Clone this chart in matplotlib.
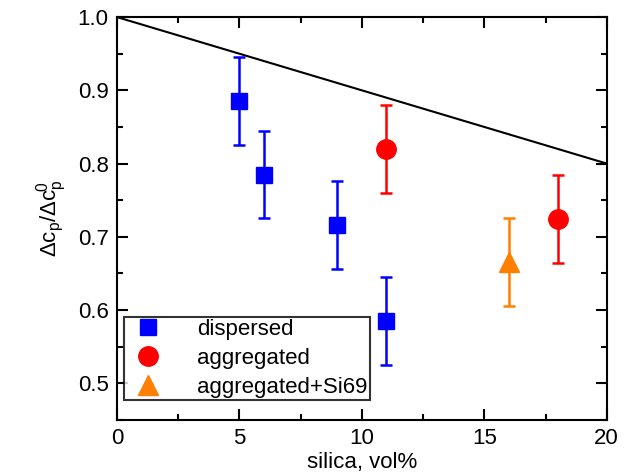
import numpy as np
import matplotlib.pyplot as plt
from matplotlib.ticker import MultipleLocator
from matplotlib.lines import Line2D

plt.rcParams['font.family'] = ['Liberation Sans', 'DejaVu Sans']
plt.rcParams['mathtext.fontset'] = 'custom'
plt.rcParams['mathtext.rm'] = 'Liberation Sans'
plt.rcParams['mathtext.it'] = 'Liberation Sans'

# data
disp_x = [5, 6, 9, 11]
disp_y = [0.885, 0.785, 0.716, 0.585]
disp_err = [0.06, 0.06, 0.06, 0.06]

agg_x = [11, 18]
agg_y = [0.82, 0.724]
agg_err = [0.06, 0.06]

si_x = [16]
si_y = [0.665]
si_err = [0.06]

line_x = [0, 20]
line_y = [1.0, 0.8]

fig = plt.figure(figsize=(6.34, 4.75), dpi=100)
ax = fig.add_axes([0.1845, 0.116, 0.7725, 0.848])

ax.plot(line_x, line_y, color='black', lw=1.5)

ax.errorbar(disp_x, disp_y, yerr=disp_err, fmt='s', color='#0000ff', ms=12,
            elinewidth=1.8, capsize=4, capthick=1.8)
ax.errorbar(agg_x, agg_y, yerr=agg_err, fmt='o', color='#ff0000', ms=14,
            elinewidth=1.8, capsize=4, capthick=1.8)
ax.errorbar(si_x, si_y, yerr=si_err, fmt='^', color='#ff7f00', ms=15,
            elinewidth=1.8, capsize=4, capthick=1.8)

ax.set_xlim(0, 20)
ax.set_ylim(0.45, 1.0)
ax.xaxis.set_major_locator(MultipleLocator(5))
ax.xaxis.set_minor_locator(MultipleLocator(2.5))
ax.yaxis.set_minor_locator(MultipleLocator(0.05))
ax.tick_params(which='both', direction='in', top=True, right=True, width=1.5)
ax.tick_params(which='major', length=8, labelsize=16, pad=6)
ax.tick_params(which='minor', length=4)
ax.set_yticks([0.5, 0.6, 0.7, 0.8, 0.9, 1.0])
ax.set_yticklabels(['0.5', '0.6', '0.7', '0.8', '0.9', '1.0'])
for s in ax.spines.values():
    s.set_linewidth(1.5)

ax.set_xlabel('silica, vol%', fontsize=16, labelpad=2)
ax.set_ylabel(r'$\Delta$c$_\mathregular{p}$/$\Delta$c$_\mathregular{p}^{\!\mathregular{0}}$',
              fontsize=16, labelpad=6)

handles = [
    Line2D([], [], marker='s', ls='none', color='#0000ff', ms=12),
    Line2D([], [], marker='o', ls='none', color='#ff0000', ms=14),
    Line2D([], [], marker='^', ls='none', color='#ff7f00', ms=15),
]
labels = ['dispersed', 'aggregated', 'aggregated+Si69']
leg = ax.legend(handles, labels, loc='lower left', fontsize=16, frameon=True,
                fancybox=False, edgecolor='black', handletextpad=1.2,
                borderpad=0.1, labelspacing=0.35, handlelength=2.0,
                bbox_to_anchor=(0.014, 0.05), borderaxespad=0)
leg.get_frame().set_linewidth(1.5)

fig.savefig('out.png', dpi=100)
